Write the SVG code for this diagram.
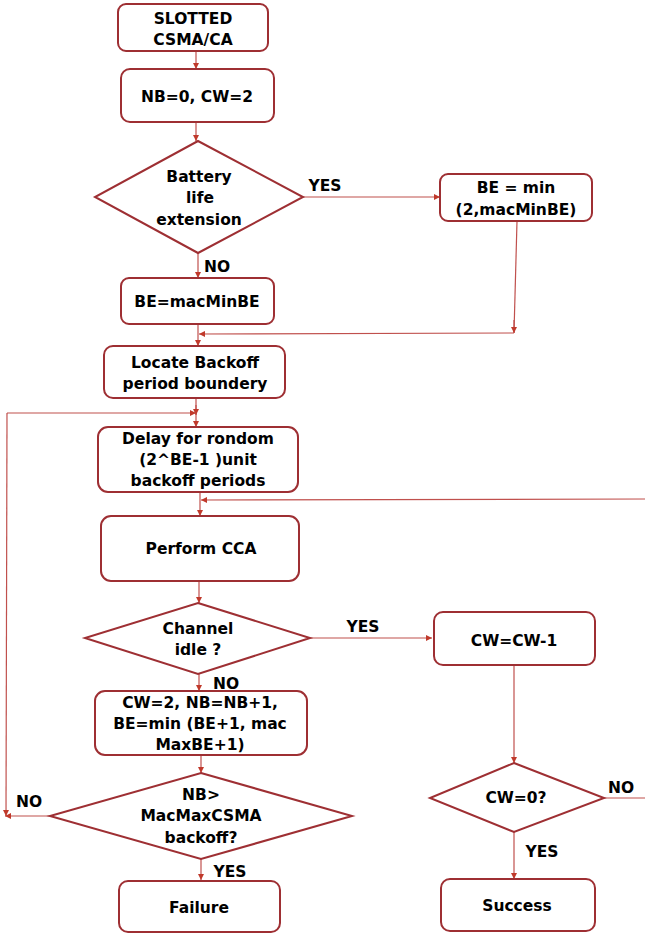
<svg xmlns="http://www.w3.org/2000/svg" width="645" height="933" viewBox="0 0 645 933">
<style>
.box{fill:#fff;stroke:#9e2f33;stroke-width:2}
.dia{fill:#fff;stroke:#9e2f33;stroke-width:2}
.t{font-family:"DejaVu Sans",sans-serif;font-weight:bold;font-size:15.5px;fill:#000;text-anchor:middle;dominant-baseline:middle}
.c{fill:none;stroke:#c0504d;stroke-width:1.2}
</style>
<defs>
<marker id="ah" viewBox="0 0 10 10" refX="10" refY="5" markerWidth="6" markerHeight="6" orient="auto" markerUnits="userSpaceOnUse">
<path d="M0,0 L10,5 L0,10 z" fill="#c0392b"/>
</marker>
</defs>
<rect width="645" height="933" fill="#fff"/>
<g id="connectors">
<line class="c" x1="196" y1="51" x2="196" y2="69" marker-end="url(#ah)"/>
<line class="c" x1="196" y1="122" x2="196" y2="141" marker-end="url(#ah)"/>
<line class="c" x1="303" y1="197" x2="440" y2="197" marker-end="url(#ah)"/>
<line class="c" x1="198" y1="253" x2="198" y2="278" marker-end="url(#ah)"/>
<polyline class="c" points="517,221 514,333"/>
<line class="c" x1="514" y1="320" x2="514" y2="333" marker-end="url(#ah)"/>
<line class="c" x1="514" y1="333" x2="199" y2="334" marker-end="url(#ah)"/>
<line class="c" x1="198" y1="324" x2="198" y2="346" marker-end="url(#ah)"/>
<line class="c" x1="196" y1="398" x2="196" y2="427" marker-end="url(#ah)"/>
<line class="c" x1="196" y1="405" x2="196" y2="415" marker-end="url(#ah)"/>
<line class="c" x1="7" y1="413" x2="196" y2="413" marker-end="url(#ah)"/>
<line class="c" x1="7" y1="413" x2="6" y2="816" marker-end="url(#ah)"/>
<line class="c" x1="645" y1="499" x2="201" y2="500" marker-end="url(#ah)"/>
<line class="c" x1="200" y1="492" x2="200" y2="516" marker-end="url(#ah)"/>
<line class="c" x1="199" y1="581" x2="199" y2="603" marker-end="url(#ah)"/>
<line class="c" x1="310" y1="638" x2="432" y2="638" marker-end="url(#ah)"/>
<line class="c" x1="199" y1="674" x2="199" y2="691" marker-end="url(#ah)"/>
<line class="c" x1="201" y1="755" x2="201" y2="773" marker-end="url(#ah)"/>
<line class="c" x1="50" y1="816" x2="5" y2="816" marker-end="url(#ah)"/>
<line class="c" x1="201" y1="859" x2="201" y2="880" marker-end="url(#ah)"/>
<line class="c" x1="514" y1="665" x2="514" y2="763" marker-end="url(#ah)"/>
<line class="c" x1="604" y1="798" x2="645" y2="798"/>
<line class="c" x1="514" y1="832" x2="514" y2="879" marker-end="url(#ah)"/>
</g>
<g id="start">
<rect class="box" x="118" y="4" width="150" height="47" rx="8"/>
<text class="t" x="193" y="19">SLOTTED</text>
<text class="t" x="193" y="40">CSMA/CA</text>
</g>
<g id="init">
<rect class="box" x="121" y="69" width="153" height="53" rx="9"/>
<text class="t" x="197" y="97">NB=0, CW=2</text>
</g>
<g id="battery">
<polygon class="dia" points="198,141 303,197 198,253 95,197"/>
<text class="t" x="199" y="177">Battery</text>
<text class="t" x="200" y="198">life</text>
<text class="t" x="199" y="220">extension</text>
</g>
<g id="bemin">
<rect class="box" x="440" y="174" width="152" height="47" rx="8"/>
<text class="t" x="516" y="188">BE = min</text>
<text class="t" x="516" y="210">(2,macMinBE)</text>
</g>
<g id="bemac">
<rect class="box" x="121" y="278" width="153" height="46" rx="8"/>
<text class="t" x="197" y="302">BE=macMinBE</text>
</g>
<g id="locate">
<rect class="box" x="104" y="346" width="181" height="52" rx="9"/>
<text class="t" x="195" y="363">Locate Backoff</text>
<text class="t" x="195" y="384">period boundery</text>
</g>
<g id="delay">
<rect class="box" x="98" y="427" width="200" height="65" rx="10"/>
<text class="t" x="198" y="439">Delay for rondom</text>
<text class="t" x="198" y="460">(2^BE-1 )unit</text>
<text class="t" x="198" y="481">backoff periods</text>
</g>
<g id="cca">
<rect class="box" x="101" y="516" width="198" height="65" rx="10"/>
<text class="t" x="201" y="549">Perform CCA</text>
</g>
<g id="idle">
<polygon class="dia" points="198,603 310,638 198,674 85,638"/>
<text class="t" x="198" y="629">Channel</text>
<text class="t" x="198" y="650">idle ?</text>
</g>
<g id="cwdec">
<rect class="box" x="434" y="612" width="161" height="53" rx="9"/>
<text class="t" x="514" y="641">CW=CW-1</text>
</g>
<g id="update">
<rect class="box" x="95" y="691" width="212" height="64" rx="10"/>
<text class="t" x="200" y="703">CW=2, NB=NB+1,</text>
<text class="t" x="200" y="724">BE=min (BE+1, mac</text>
<text class="t" x="200" y="745">MaxBE+1)</text>
</g>
<g id="nbcheck">
<polygon class="dia" points="201,773 352,816 201,859 50,816"/>
<text class="t" x="201" y="795">NB&gt;</text>
<text class="t" x="201" y="816">MacMaxCSMA</text>
<text class="t" x="201" y="838">backoff?</text>
</g>
<g id="cwcheck">
<polygon class="dia" points="514,763 604,798 514,832 430,798"/>
<text class="t" x="516" y="798">CW=0?</text>
</g>
<g id="failure">
<rect class="box" x="119" y="881" width="161" height="51" rx="9"/>
<text class="t" x="199" y="908">Failure</text>
</g>
<g id="success">
<rect class="box" x="441" y="879" width="154" height="52" rx="9"/>
<text class="t" x="517" y="906">Success</text>
</g>
<g id="labels">
<text class="t" x="325" y="186">YES</text>
<text class="t" x="217" y="267">NO</text>
<text class="t" x="363" y="627">YES</text>
<text class="t" x="226" y="684">NO</text>
<text class="t" x="29" y="802">NO</text>
<text class="t" x="230" y="872">YES</text>
<text class="t" x="542" y="852">YES</text>
<text class="t" x="621" y="788">NO</text>
</g>
</svg>
